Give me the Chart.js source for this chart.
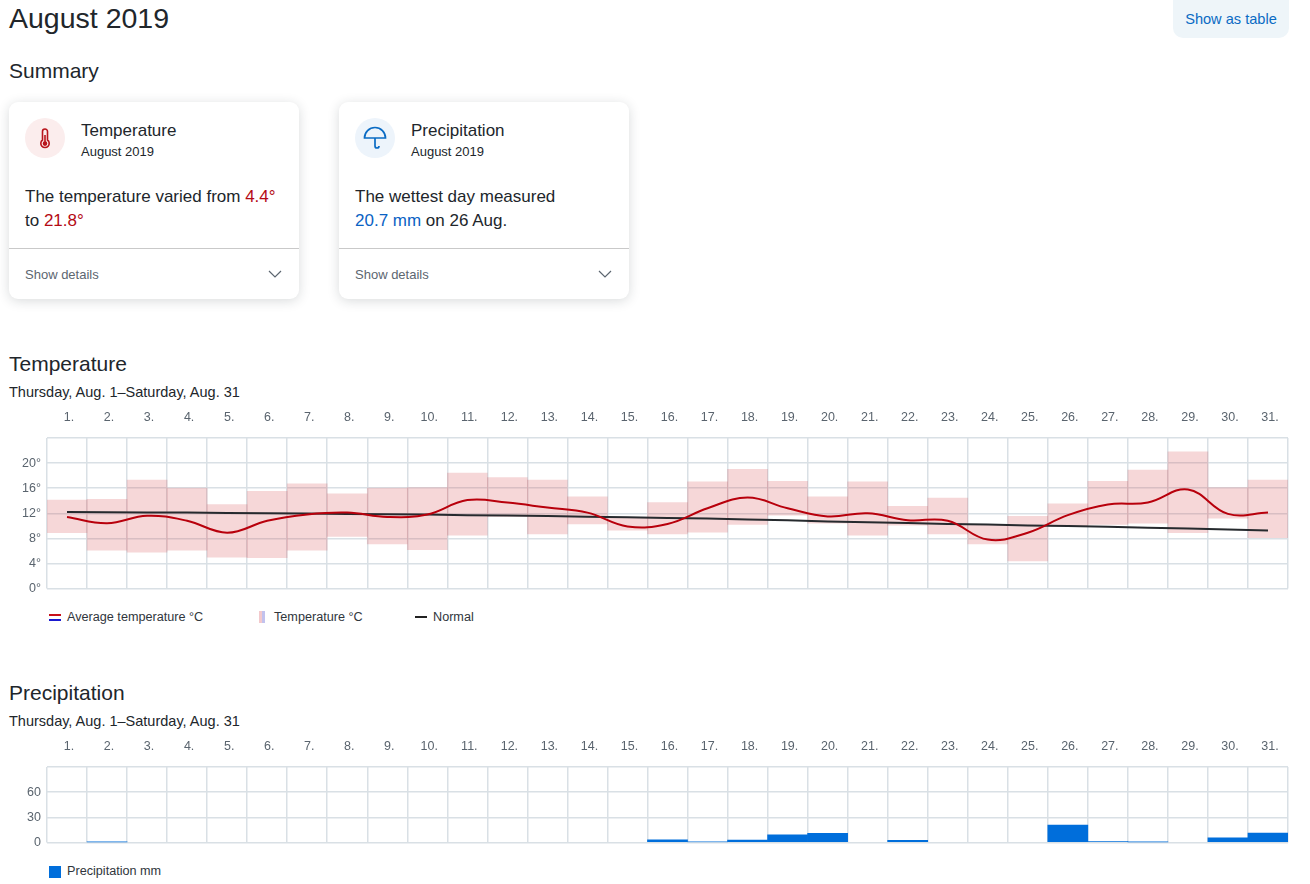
<!DOCTYPE html>
<html>
<head>
<meta charset="utf-8">
<title>August 2019</title>
<script src="https://cdn.jsdelivr.net/npm/chart.js@4"></script>
<style>
    * { box-sizing: border-box; }
    html, body { margin: 0; padding: 0; background: #fff; }
    body { position: relative; width: 1310px; height: 884px; overflow: hidden; font-family: "Liberation Sans", Arial, sans-serif; color: #21262b; }
    .abs { position: absolute; white-space: nowrap; line-height: 1; }
    h1, h2 { margin: 0; font-weight: 400; }
    h1 { font-size: 28.5px; }
    h2 { font-size: 21px; }
    .range { font-size: 14.5px; }
    .btn { left: 1173px; top: 0; width: 116px; height: 38px; background: #eef5f9; border-radius: 0 0 10px 10px; color: #0a6bc4; font-size: 14.6px; line-height: 38px; text-align: center; }
    .card { position: absolute; top: 102px; width: 290px; height: 197px; background: #fff; border-radius: 9px; box-shadow: 0 2px 12px rgba(30, 40, 50, .17); }
    .card .circle { position: absolute; left: 16px; top: 16px; width: 40px; height: 40px; border-radius: 50%; }
    .card .title { left: 72px; top: 20px; font-size: 17px; }
    .card .sub { left: 72px; top: 43px; font-size: 13px; }
    .card .body { position: absolute; left: 16px; top: 83px; font-size: 17px; line-height: 24px; white-space: nowrap; }
    .card .line { position: absolute; left: 0; right: 0; top: 146px; height: 1px; background: #c9c9c9; }
    .card .more { left: 16px; top: 166px; font-size: 13px; color: #5c6670; }
    .card svg.chev { position: absolute; left: 259px; top: 168px; }
    .red { color: #b40a14; }
    .blue { color: #0a62c4; }
    canvas { position: absolute; left: 0; }
    .legend { font-size: 12.65px; color: #30363c; }
    .key { position: absolute; }
</style>
</head>
<body>
<h1 class="abs" style="left:9px;top:4px">August 2019</h1>
<div class="abs btn">Show as table</div>
<h2 class="abs" style="left:9px;top:60px">Summary</h2>

<div class="card" style="left:9px">
    <div class="circle" style="background:#fbeded"></div>
    <svg class="key" style="left:28px;top:25px" width="16" height="24" viewBox="0 0 16 24" fill="none" stroke="#b8141c" stroke-width="1.6">
        <path d="M5.5 13V4.500a2.500 2.500 0 0 1 5 0V13a4.200 4.200 0 1 1-5 0z"/>
        <circle cx="8" cy="16.600" r="1.500" fill="#b8141c"/>
        <path d="M8 8v8"/>
    </svg>
    <div class="abs title">Temperature</div>
    <div class="abs sub">August 2019</div>
    <div class="body">The temperature varied from <span class="red">4.4°</span><br>to <span class="red">21.8°</span></div>
    <div class="line"></div>
    <div class="abs more">Show details</div>
    <svg class="chev" width="14" height="8" viewBox="0 0 14 8" fill="none" stroke="#5c6670" stroke-width="1.2"><path d="M1 1l6 6 6-6"/></svg>
</div>

<div class="card" style="left:339px">
    <div class="circle" style="background:#edf4fb"></div>
    <svg class="key" style="left:23px;top:23px" width="26" height="26" viewBox="0 0 26 26" fill="none" stroke="#0a6bc4" stroke-width="1.700">
        <path d="M2.500 13a10.500 10.500 0 0 1 21 0z"/>
        <path d="M13 13v8a2 2 0 0 0 4 0"/>
    </svg>
    <div class="abs title">Precipitation</div>
    <div class="abs sub">August 2019</div>
    <div class="body">The wettest day measured<br><span class="blue">20.7 mm</span> on 26 Aug.</div>
    <div class="line"></div>
    <div class="abs more">Show details</div>
    <svg class="chev" width="14" height="8" viewBox="0 0 14 8" fill="none" stroke="#5c6670" stroke-width="1.2"><path d="M1 1l6 6 6-6"/></svg>
</div>

<h2 class="abs" style="left:9px;top:353px">Temperature</h2>
<div class="abs range" style="left:9px;top:385px">Thursday, Aug. 1–Saturday, Aug. 31</div>
<canvas id="tempChart" width="1300" height="202" style="top:400px"></canvas>
<div class="key" style="left:49px;top:614px;width:12px;height:2px;background:#c8101a"></div>
<div class="key" style="left:49px;top:619px;width:12px;height:2px;background:#1a1ad0"></div>
<div class="abs legend" style="left:67px;top:611px">Average temperature °C</div>
<div class="key" style="left:259px;top:611px;width:3px;height:12px;background:#f3c9cc"></div>
<div class="key" style="left:262px;top:611px;width:3px;height:12px;background:#c2c2ee"></div>
<div class="abs legend" style="left:274px;top:611px">Temperature °C</div>
<div class="key" style="left:415px;top:616px;width:12px;height:2px;background:#222"></div>
<div class="abs legend" style="left:433px;top:611px">Normal</div>

<h2 class="abs" style="left:9px;top:682px">Precipitation</h2>
<div class="abs range" style="left:9px;top:714px">Thursday, Aug. 1–Saturday, Aug. 31</div>
<canvas id="rainChart" width="1300" height="127" style="top:729px"></canvas>
<div class="key" style="left:49px;top:866px;width:12px;height:12px;background:#006edb"></div>
<div class="abs legend" style="left:67px;top:865px">Precipitation mm</div>

<script>
const days = ['1.', '2.', '3.', '4.', '5.', '6.', '7.', '8.', '9.', '10.', '11.', '12.', '13.', '14.', '15.', '16.',
    '17.', '18.', '19.', '20.', '21.', '22.', '23.', '24.', '25.', '26.', '27.', '28.', '29.', '30.', '31.'];

// daily values in °C
const tempLow = [8.9, 6.1, 5.8, 6.1, 5.0, 4.9, 6.1, 8.3, 7.1, 6.2, 8.5, 11.5, 8.7, 10.3, 9.3, 8.7,
    9.0, 10.2, 11.7, 10.4, 8.5, 10.1, 8.7, 7.1, 4.4, 9.9, 10.2, 10.4, 8.9, 11.2, 8.1];
const tempHigh = [14.1, 14.2, 17.3, 16.0, 13.4, 15.5, 16.7, 15.1, 16.0, 16.1, 18.4, 17.7, 17.3, 14.6, 11.3, 13.7,
    17.0, 19.0, 17.1, 14.6, 17.0, 13.1, 14.4, 10.1, 11.5, 13.5, 17.1, 18.9, 21.8, 16.1, 17.3];
const tempAvg = [11.4, 10.4, 11.6, 10.8, 8.9, 10.8, 11.8, 12.1, 11.4, 11.8, 14.1, 13.7, 12.9, 12.1, 9.9, 10.3,
    12.8, 14.5, 12.8, 11.5, 12.0, 10.9, 10.8, 7.8, 8.9, 11.7, 13.4, 13.7, 15.8, 11.9, 12.1];
const tempNormal = [12.2, 12.15, 12.1, 12.1, 12.05, 12.0, 11.95, 11.9, 11.85, 11.8, 11.7, 11.65, 11.55, 11.45, 11.35, 11.25,
    11.15, 11.0, 10.9, 10.7, 10.55, 10.45, 10.3, 10.2, 10.05, 9.95, 9.85, 9.7, 9.55, 9.4, 9.25];

// daily precipitation in mm
const rain = [0, 0.4, 0, 0, 0, 0, 0, 0, 0, 0, 0, 0, 0, 0, 0, 3.2,
    0.6, 3.0, 9.2, 10.8, 0, 2.6, 0, 0, 0, 20.7, 1.2, 0.3, 0, 5.6, 11.2];

const gridColor = '#d9e0e5';
const tickColor = '#5a646e';
Chart.defaults.font.family = '"Liberation Sans", Arial, sans-serif';
Chart.defaults.font.size = 12.5;
Chart.defaults.animation = false;

// both charts share the same axes, only the y range differs
function scales(yMax, step, suffix) {
    return {
        x: {
            position: 'top',
            afterFit: (s) => { s.height = 38; },
            grid: { color: gridColor, lineWidth: 1.5, drawTicks: false },
            border: { display: false },
            ticks: { color: tickColor, maxRotation: 0, autoSkip: false, labelOffset: 2, padding: 13 },
        },
        y: {
            min: 0,
            max: yMax,
            afterFit: (s) => { s.width = 47; },
            grid: { color: gridColor, lineWidth: 1.5, drawTicks: false },
            border: { display: false },
            ticks: {
                color: tickColor,
                stepSize: step,
                padding: 6,
                callback: (v) => v == yMax ? '' : v + suffix,
            },
        },
    };
}

const layout = { autoPadding: false, padding: { right: 12, bottom: 2 } };

new Chart(document.getElementById('tempChart').getContext('2d'), {
    type: 'bar',
    data: {
        labels: days,
        datasets: [
            {
                type: 'line',
                label: 'Average temperature °C',
                data: tempAvg,
                borderColor: '#b8000c',
                borderWidth: 2,
                tension: 0.4,
                pointRadius: 0,
                order: 1,
            },
            {
                type: 'line',
                label: 'Normal',
                data: tempNormal,
                borderColor: '#262a2e',
                borderWidth: 2,
                tension: 0,
                pointRadius: 0,
                order: 2,
            },
            {
                label: 'Temperature °C',
                data: tempLow.map((low, i) => [low, tempHigh[i]]),
                backgroundColor: 'rgba(214, 64, 72, 0.21)',
                categoryPercentage: 1,
                barPercentage: 1,
                order: 3,
            },
        ],
    },
    options: {
        responsive: false,
        layout: layout,
        plugins: { legend: { display: false }, tooltip: { enabled: false } },
        scales: scales(24, 4, '°'),
    },
});

new Chart(document.getElementById('rainChart').getContext('2d'), {
    type: 'bar',
    data: {
        labels: days,
        datasets: [{
            label: 'Precipitation mm',
            data: rain,
            // dry days get no bar at all
            backgroundColor: (c) => c.raw > 0 ? '#006edb' : 'transparent',
            categoryPercentage: 1,
            barPercentage: 1,
        }],
    },
    options: {
        responsive: false,
        layout: layout,
        plugins: { legend: { display: false }, tooltip: { enabled: false } },
        scales: scales(90, 30, ''),
    },
});
</script>
</body>
</html>
